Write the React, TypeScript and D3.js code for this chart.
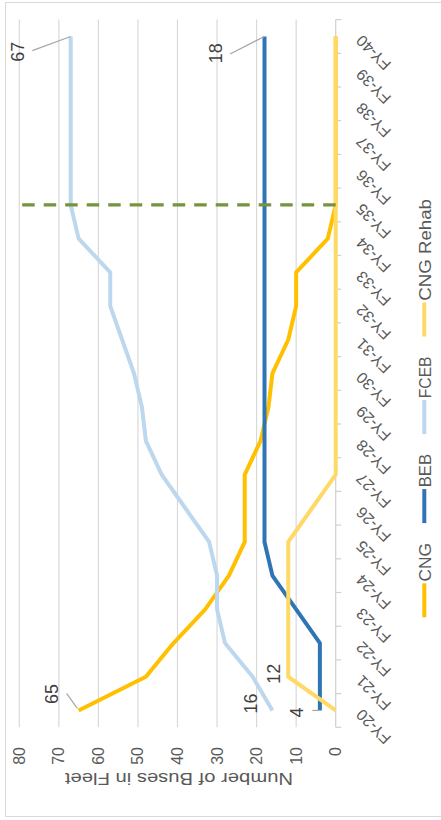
import React from 'react';
import * as d3 from 'd3';

// ---- data ----
const categories = ['FY-20','FY-21','FY-22','FY-23','FY-24','FY-25','FY-26','FY-27','FY-28','FY-29','FY-30','FY-31','FY-32','FY-33','FY-34','FY-35','FY-36','FY-37','FY-38','FY-39','FY-40'];
const cngValues = [65,48,41,33,27,23,23,23,19,17,16,12,10,10,2,0,0,0,0,0,0];
const bebValues = [4,4,4,10,16,18,18,18,18,18,18,18,18,18,18,18,18,18,18,18,18];
const fcebValues = [16,21,28,30,30,32,38,44,48,49,51,54,57,57,65,67,67,67,67,67,67];
const cngRehabValues = [0,12,12,12,12,12,6,0,0,0,0,0,0,0,0,0,0,0,0,0,0];
const seriesNames = ['CNG','BEB','FCEB','CNG Rehab'];
const valueTicks = [0,10,20,30,40,50,60,70,80];
const markerCategory = 'FY-35';
const axisTitle = 'Number of Buses in Fleet';

// ---- style ----
const seriesColors = ['#FFC000','#2E75B6','#BDD7EE','#FFD966'];
const FONT = '"Liberation Sans", Arial, sans-serif';
const TEXT = '#595959';
// data label placements: [seriesIndex, categoryIndex, dx, dy, leader]
const labelPlacements: [number, number, number, number, number[] | null][] = [
  [0, 0, 16.5, -27, [2, -1.3, 17, -12]],
  [2, 0, 7, -21, null],
  [3, 1, 3, -14.5, null],
  [1, 0, -2, -22.5, [0, -7.5, 0, -1]],
  [2, 20, -15.2, -52.4, [-14.2, -38.4, 0, 0]],
  [1, 20, -16.8, -49, [-17.5, -34.5, 0, 0]],
];
const legendTextWidths = [38.4, 33.3, 41.7, 101.7];

const W = 820; // original (unrotated) width
const series = [cngValues, bebValues, fcebValues, cngRehabValues];

export default function App() {
  const x = d3.scaleBand<string>().domain(categories).range([92.7, 800.4]).padding(0);
  const bw = x.bandwidth();
  const cx = (c: string) => (x(c) as number) + bw / 2;
  const y = d3.scaleLinear().domain([0, 80]).range([335.7, 19.3]);
  const line = d3.line<number>().x((_, i) => cx(categories[i])).y((d) => y(d));

  const boundaries = categories.map((c) => x(c) as number).concat([(x(categories[categories.length - 1]) as number) + bw]);

  // legend layout
  let lx = 202.7;
  const legendItems = seriesNames.map((name, i) => {
    const item = { name, x: lx, color: seriesColors[i], tw: legendTextWidths[i] };
    lx += 34 + 1.8 + legendTextWidths[i] + 20;
    return item;
  });

  return (
    <svg width={441} height={820} style={{ position: 'absolute', left: 0, top: 0, display: 'block', background: '#fff' }}>
      <rect x={5.5} y={2.5} width={445} height={814} fill="#fff" stroke="#D9D9D9" strokeWidth={1} />
      <g transform={`translate(0,${W}) rotate(-90)`} fontFamily={FONT}>
        {/* gridlines */}
        {valueTicks.filter((v) => v > 0).map((v) => (
          <line key={v} x1={92.7} x2={800.4} y1={y(v)} y2={y(v)} stroke="#D9D9D9" strokeWidth={1.2} />
        ))}
        {/* category axis */}
        <line x1={92.7} x2={800.4} y1={y(0)} y2={y(0)} stroke="#D0D0D0" strokeWidth={1.2} />
        {boundaries.map((b, i) => (
          <line key={i} x1={b} x2={b} y1={y(0)} y2={y(0) + 5.5} stroke="#D0D0D0" strokeWidth={1.2} />
        ))}
        {/* value tick labels */}
        {valueTicks.map((v) => (
          <text key={v} x={73} y={y(v)} textAnchor="end" dominantBaseline="central" fontSize={16} fill={TEXT}>{v}</text>
        ))}
        {/* category labels */}
        {categories.map((c) => (
          <text key={c} transform={`translate(${cx(c) + 2.4},${y(0) + 27}) rotate(-45)`} textAnchor="end" fontSize={15.8} fill={TEXT}>{c}</text>
        ))}
        {/* axis title */}
        <text transform={`translate(47,179) rotate(-90)`} textAnchor="middle" fontSize={16} fill={TEXT} textLength={228} lengthAdjust="spacingAndGlyphs">{axisTitle}</text>
        {/* series */}
        {series.map((s, i) => (
          <path key={i} d={line(s) as string} fill="none" stroke={seriesColors[i]} strokeWidth={4} strokeLinejoin="round" strokeLinecap="butt" />
        ))}
        {/* marker dashed line */}
        <line x1={cx(markerCategory)} x2={cx(markerCategory)} y1={y(0)} y2={y(80)} stroke="#77933C" strokeWidth={3.2} strokeDasharray="12.5 9" />
        {/* data labels */}
        {labelPlacements.map(([si, ci, dx, dy, leader], k) => {
          const px = cx(categories[ci]);
          const py = y(series[si][ci]);
          return (
            <g key={k}>
              {leader && (
                <line x1={px + leader[0]} y1={py + leader[1]} x2={px + leader[2]} y2={py + leader[3]} stroke="#A6A6A6" strokeWidth={1.2} />
              )}
              <text x={px + dx} y={py + dy} textAnchor="middle" dominantBaseline="central" fontSize={18} fill="#404040">{series[si][ci]}</text>
            </g>
          );
        })}
        {/* legend */}
        {legendItems.map((it) => (
          <g key={it.name}>
            <line x1={it.x} x2={it.x + 34} y1={424.3} y2={424.3} stroke={it.color} strokeWidth={4} />
            <text x={it.x + 35.8} y={430.8} fontSize={17} fill={TEXT} textLength={it.tw} lengthAdjust="spacingAndGlyphs">{it.name}</text>
          </g>
        ))}
      </g>
    </svg>
  );
}
